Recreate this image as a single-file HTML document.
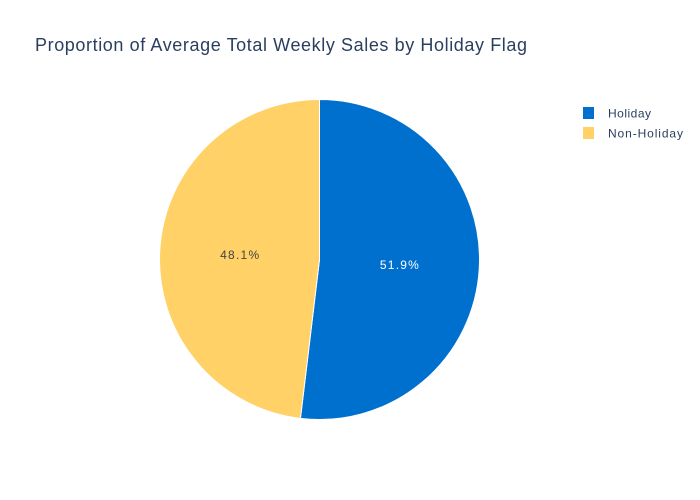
<!DOCTYPE html>
<html><head><meta charset="utf-8"><style>
body{margin:0;background:#fff;}
svg{display:block;font-family:"Liberation Sans",Arial,sans-serif;}
</style></head><body>
<svg id="chart" width="700" height="500">
<rect width="700" height="500" fill="#fff"/>
<text x="35" y="51" font-size="18" fill="#2a3f5f" textLength="492" lengthAdjust="spacing">Proportion of Average Total Weekly Sales by Holiday Flag</text>
<g id="slices"></g>
<g id="legend"></g>
</svg>
<script>
const categories = ["Holiday", "Non-Holiday"];
const values = [51.9, 48.1];
const colors = ["#0070cf", "#ffd166"];
const textColors = ["#ffffff", "#444444"];
const legendWidths = [43, 75];
const cx = 319.5, cy = 259.5, r = 160;
const ns = "http://www.w3.org/2000/svg";
const total = values.reduce((a,b)=>a+b,0);
const g = document.getElementById('slices');
let a0 = 0;
function pt(a, rr){ return [cx + rr*Math.sin(a), cy - rr*Math.cos(a)]; }
values.forEach((v,i)=>{
  const a1 = a0 + v/total*2*Math.PI;
  const [x0,y0]=pt(a0,r), [x1,y1]=pt(a1,r);
  const large = (a1-a0)>Math.PI?1:0;
  const p = document.createElementNS(ns,'path');
  p.setAttribute('d',`M${cx},${cy} L${x0},${y0} A${r},${r} 0 ${large} 1 ${x1},${y1} Z`);
  p.setAttribute('fill',colors[i]);
  p.setAttribute('stroke','#fff');
  p.setAttribute('stroke-width','1');
  
  
  g.appendChild(p);
  const am = (a0+a1)/2;
  const [lx,ly]=pt(am, r*0.5);
  const t = document.createElementNS(ns,'text');
  t.setAttribute('x',lx); t.setAttribute('y',ly+4.5);
  t.setAttribute('text-anchor','middle');
  t.setAttribute('font-size','12');
  t.setAttribute('textLength','39');
  t.setAttribute('fill',textColors[i]);
  t.textContent = (v/total*100).toFixed(1)+'%';
  
  
  g.appendChild(t);
  a0 = a1;
});
const lg = document.getElementById('legend');
categories.forEach((c,i)=>{
  const y = 113 + i*20;
  const grp = document.createElementNS(ns,'g');
  
  
  const s = document.createElementNS(ns,'rect');
  s.setAttribute('x',583); s.setAttribute('y',y-6); s.setAttribute('width',11); s.setAttribute('height',12);
  s.setAttribute('fill',colors[i]);
  grp.appendChild(s);
  const t = document.createElementNS(ns,'text');
  t.setAttribute('x',608); t.setAttribute('y',y+4.5);
  t.setAttribute('font-size','12'); t.setAttribute('fill','#2a3f5f');
  t.setAttribute('textLength', legendWidths[i]);
  t.textContent = c;
  grp.appendChild(t);
  lg.appendChild(grp);
});
</script>
</body></html>
